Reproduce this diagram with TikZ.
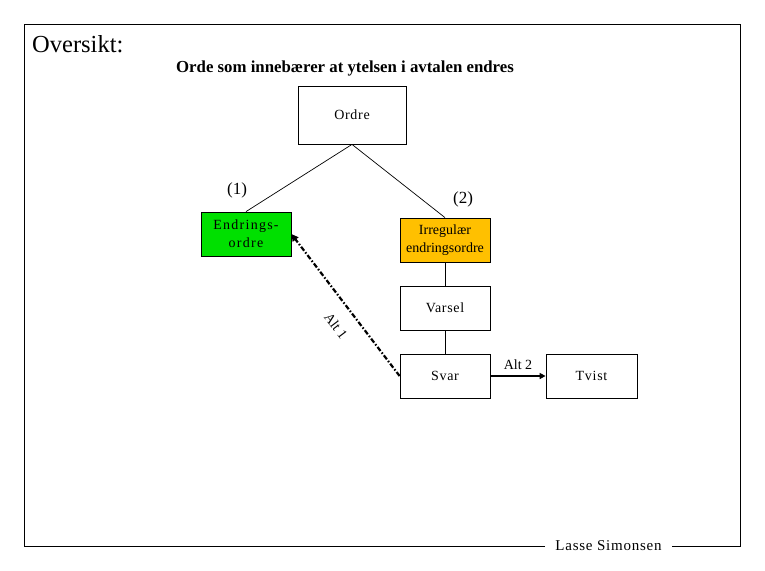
\documentclass[tikz,border=0pt]{standalone}
\usepackage{fontspec}
\setmainfont{Liberation Serif}
\usetikzlibrary{arrows.meta}
\definecolor{boxgreen}{RGB}{0,224,0}
\definecolor{boxorange}{RGB}{255,192,0}
\tikzset{
  box/.style={draw=black, line width=0.8pt, minimum width=90pt, minimum height=44pt, inner sep=0pt, align=center, font=\fontsize{14}{18}\selectfont\addfontfeature{LetterSpace=5}},
  conn/.style={line width=0.7pt},
  lbl/.style={inner sep=0pt, font=\fontsize{17}{20}\selectfont}
}
\begin{document}
\begin{tikzpicture}[x=1pt,y=-1pt]
\useasboundingbox (0,0) rectangle (765,570);
\fill[white] (0,0) rectangle (765,570);
% frame
\coordinate (fl) at (545,546);
\coordinate (fr) at (672,546);
\draw[line width=0.9pt] (fl) -- (24,546) -- (24,24) -- (740,24) -- (740,546) -- (fr);
\node[inner sep=0pt, font=\fontsize{15}{18}\selectfont\addfontfeature{LetterSpace=5}] (author) at (608.5,546) {Lasse Simonsen};
% titles
\node[anchor=west, inner sep=0pt, font=\fontsize{24.5}{27}\selectfont] (title) at (32,44) {Oversikt:};
\node[inner sep=0pt, font=\fontsize{16.8}{19}\selectfont\bfseries] (sub) at (345,68) {Orde som innebærer at ytelsen i avtalen endres};
% nodes
\node[box, minimum width=108pt, minimum height=58pt] (ordre) at (352,115) {Ordre};
\node[box, fill=boxgreen, font=\fontsize{14}{18}\selectfont\addfontfeature{LetterSpace=9}] (endr) at (246,234) {Endrings-\\ordre};
\node[box, fill=boxorange, font=\fontsize{14}{18}\selectfont] (irr) at (445,240) {Irregulær\\endringsordre};
\node[box] (varsel) at (445,308) {Varsel};
\node[box] (svar) at (445,376) {Svar};
\node[box, minimum width=91pt] (tvist) at (591.5,376) {Tvist};
% connectors
\draw[conn] (ordre.south) -- (endr.north);
\draw[conn] (ordre.south) -- (irr.north);
\draw[conn] (irr.south) -- (varsel.north);
\draw[conn] (varsel.south) -- (svar.north);
\node[lbl] (l1) at (237,190) {(1)};
\node[lbl] (l2) at (463,199) {(2)};
\draw[line width=2.2pt, dash pattern=on 5pt off 2pt on 1.5pt off 2pt, -{Triangle[length=7pt,width=7pt]}] (svar.west) -- (endr.east);
\node[inner sep=0pt, rotate=-53, font=\fontsize{14}{16}\selectfont] (alt1) at (336,326) {Alt 1};
\draw[line width=2pt, -{Triangle[length=6pt,width=6pt]}] (svar.east) -- (tvist.west)
  node[midway, above=5pt, inner sep=0pt, font=\fontsize{14}{16}\selectfont] (alt2) {Alt 2};
\end{tikzpicture}
\end{document}
